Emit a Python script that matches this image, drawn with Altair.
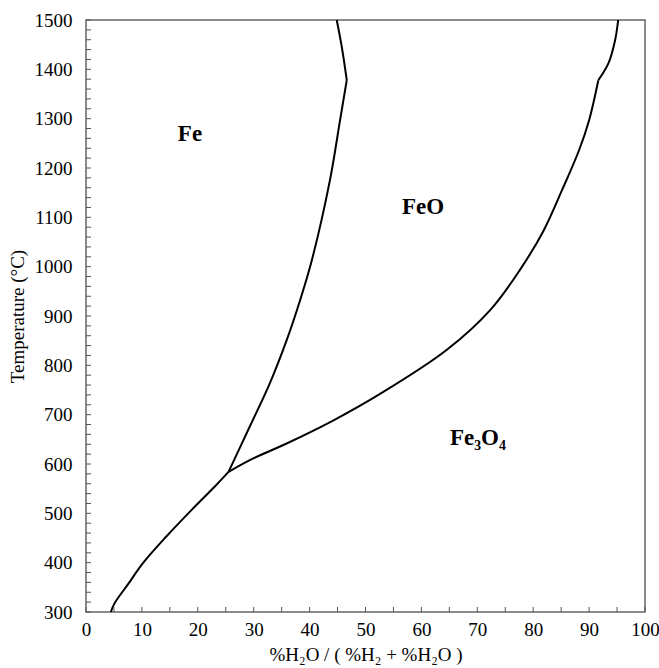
import altair as alt
import pandas as pd

# Phase boundaries (x = %H2O, t = temperature in °C)
fe_feo_low_x = [25.5, 29.3, 32.9, 35.9, 38.3, 40.4, 43.65, 45.45, 46.65]
fe_feo_low_t = [584, 676, 764, 851, 932, 1013, 1176, 1297, 1378]
fe_feo_high_x = [46.65, 45.75, 44.85]
fe_feo_high_t = [1378, 1446, 1500]

fe_fe3o4_x = [4.45, 5.07, 7.63, 10.18, 14.37, 18.9, 23.26, 25.5]
fe_fe3o4_t = [300, 317, 358, 399, 453, 507, 557, 584]

feo_fe3o4_low_x = [25.5, 29.3, 35.8, 44.2, 52.6, 64.5, 72.3, 77.6, 81.9, 85.15, 88.2, 90.0, 91.65]
feo_fe3o4_low_t = [584, 608, 641, 688, 742, 831, 912, 993, 1074, 1155, 1236, 1297, 1378]
feo_fe3o4_high_x = [91.65, 93.45, 94.65, 95.2]
feo_fe3o4_high_t = [1378, 1412, 1459, 1500]

# Region labels
label_text = ["Fe", "FeO", "Fe\u2083O\u2084"]
label_x = [18.6, 60.3, 70.1]
label_t = [1269, 1121, 653]

x_label_values = list(range(0, 101, 10))
y_label_values = list(range(300, 1501, 100))
x_tick_values = list(range(0, 101, 5))
y_tick_values = list(range(300, 1501, 20))

W, H = 559, 592
FONT = "Liberation Serif"

rows = []
for name, xv, tv in [("Fe/FeO low", fe_feo_low_x, fe_feo_low_t),
                     ("Fe/FeO high", fe_feo_high_x, fe_feo_high_t),
                     ("Fe/Fe3O4", fe_fe3o4_x, fe_fe3o4_t),
                     ("FeO/Fe3O4 low", feo_fe3o4_low_x, feo_fe3o4_low_t),
                     ("FeO/Fe3O4 high", feo_fe3o4_high_x, feo_fe3o4_high_t)]:
    for i, (a, b) in enumerate(zip(xv, tv)):
        rows.append({"series": name, "i": i, "x": a, "t": b})
df = pd.DataFrame(rows)

xs = alt.Scale(domain=[0, 100], nice=False, zero=False)
ys = alt.Scale(domain=[300, 1500], nice=False, zero=False)

x_axis = alt.Axis(values=x_label_values, format="d", tickSize=0, domain=False, grid=False,
                  labelFlush=False, labelOverlap=False,
                  labelPadding=8, labelFont=FONT, labelFontSize=19, labelColor="black",
                  title="%H\u2082O / ( %H\u2082 + %H\u2082O )", titleFont=FONT,
                  titleFontSize=19, titleFontWeight="normal", titleColor="black",
                  titlePadding=6)
y_axis = alt.Axis(values=y_label_values, format="d", tickSize=0, domain=False, grid=False,
                  labelFlush=False, labelOverlap=False,
                  labelPadding=14, labelFont=FONT, labelFontSize=19, labelColor="black",
                  title="Temperature (\u00b0C)", titleFont=FONT, titleFontSize=19,
                  titleFontWeight="normal", titleColor="black", titlePadding=7)

lines = alt.Chart(df).mark_line(color="black", strokeWidth=2, interpolate="catmull-rom").encode(
    x=alt.X("x:Q", scale=xs, axis=x_axis),
    y=alt.Y("t:Q", scale=ys, axis=y_axis),
    detail="series:N",
    order="i:Q",
)

xticks = alt.Chart(pd.DataFrame({"x": x_tick_values})).mark_rule(color="#555", strokeWidth=1).encode(
    x=alt.X("x:Q", scale=xs, axis=x_axis),
    y=alt.value(H), y2=alt.value(H - 5),
)
yticks = alt.Chart(pd.DataFrame({"t": y_tick_values})).mark_rule(color="#555", strokeWidth=1).encode(
    y=alt.Y("t:Q", scale=ys, axis=y_axis),
    x=alt.value(0), x2=alt.value(5),
)

labels = alt.Chart(pd.DataFrame({"txt": label_text, "x": label_x, "t": label_t})).mark_text(
    font=FONT, fontSize=23, fontWeight="bold", color="black", align="center", baseline="middle"
).encode(
    x=alt.X("x:Q", scale=xs, axis=x_axis),
    y=alt.Y("t:Q", scale=ys, axis=y_axis),
    text="txt:N",
)

chart = alt.layer(lines, xticks, yticks, labels).properties(
    width=W, height=H,
    background="white",
    autosize=alt.AutoSizeParams(type="none"),
    padding={"left": 86, "top": 20, "right": 14, "bottom": 56},
).configure_view(stroke="#666", strokeWidth=1.5).configure_axis(
    labelFont=FONT, titleFont=FONT
)

chart.save("out.html", embed_options={"renderer": "svg", "actions": False})
